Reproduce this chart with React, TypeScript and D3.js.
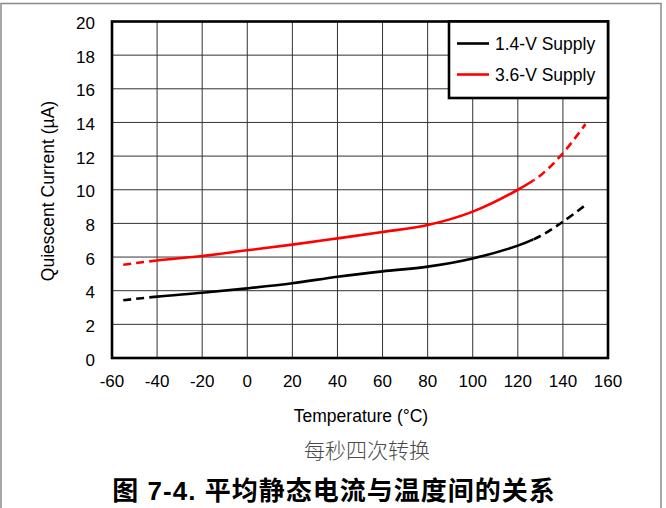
import { useEffect, useRef } from "react";
import * as d3 from "d3";

const temps = [-55, -40, -20, 0, 20, 40, 60, 80, 100, 120, 130, 140, 150];
const supply14 = [3.43, 3.65, 3.88, 4.14, 4.44, 4.83, 5.15, 5.43, 5.92, 6.68, 7.25, 8.1, 9.09];
const supply36 = [5.54, 5.8, 6.06, 6.4, 6.74, 7.11, 7.49, 7.9, 8.7, 10.0, 10.85, 12.17, 13.9];
const solidFrom = -40;
const solidTo = 127;

const xTicks = [-60, -40, -20, 0, 20, 40, 60, 80, 100, 120, 140, 160];
const yTicks = [0, 2, 4, 6, 8, 10, 12, 14, 16, 18, 20];

const seriesNames = ["1.4-V Supply", "3.6-V Supply"];
const seriesColors = ["#000000", "#ff0000"];

const FONT = "'Liberation Sans', Arial, sans-serif";
const CJK = "'Noto Sans CJK SC', sans-serif";

export default function App() {
  const ref = useRef<SVGSVGElement>(null);

  useEffect(() => {
    if (!ref.current) return;
    const width = 666;
    const height = 508;
    const plot = { left: 112, right: 608, top: 21.5, bottom: 358 };

    const svg = d3.select(ref.current);
    svg.selectAll("*").remove();
    svg.attr("width", width).attr("height", height);

    const x = d3.scaleLinear().domain([-60, 160]).range([plot.left, plot.right]);
    const y = d3.scaleLinear().domain([0, 20]).range([plot.bottom, plot.top]);

    // clip regions: dashed outside the tested range, solid inside
    const defs = svg.append("defs");
    defs
      .append("clipPath")
      .attr("id", "clip-solid")
      .append("rect")
      .attr("x", x(solidFrom))
      .attr("y", 0)
      .attr("width", x(solidTo) - x(solidFrom))
      .attr("height", height);
    const dashClip = defs.append("clipPath").attr("id", "clip-dash");
    dashClip
      .append("rect")
      .attr("x", 0)
      .attr("y", 0)
      .attr("width", x(solidFrom))
      .attr("height", height);
    dashClip
      .append("rect")
      .attr("x", x(solidTo))
      .attr("y", 0)
      .attr("width", width - x(solidTo))
      .attr("height", height);

    // outer frame
    svg
      .append("path")
      .attr("d", `M1,${height} V3.5 H661 V${height}`)
      .attr("fill", "none")
      .attr("stroke", "#8a8a8a")
      .attr("stroke-width", 1.5);

    // grid
    const grid = svg.append("g").attr("stroke", "#333").attr("stroke-width", 1);
    grid
      .selectAll("line.v")
      .data(xTicks.slice(1, -1))
      .join("line")
      .attr("class", "v")
      .attr("x1", (d) => x(d))
      .attr("x2", (d) => x(d))
      .attr("y1", plot.top)
      .attr("y2", plot.bottom);
    grid
      .selectAll("line.h")
      .data(yTicks.slice(1, -1))
      .join("line")
      .attr("class", "h")
      .attr("x1", plot.left)
      .attr("x2", plot.right)
      .attr("y1", (d) => y(d))
      .attr("y2", (d) => y(d));

    // tick labels
    svg
      .append("g")
      .selectAll("text")
      .data(yTicks)
      .join("text")
      .attr("x", plot.left - 17)
      .attr("y", (d) => y(d))
      .attr("dy", "0.45em")
      .attr("text-anchor", "end")
      .attr("font-family", FONT)
      .attr("font-size", 17)
      .text((d) => d);

    svg
      .append("g")
      .selectAll("text")
      .data(xTicks)
      .join("text")
      .attr("x", (d) => x(d))
      .attr("y", 387)
      .attr("text-anchor", "middle")
      .attr("font-family", FONT)
      .attr("font-size", 17)
      .text((d) => d);

    // curves
    const line = d3
      .line<[number, number]>()
      .x((d) => x(d[0]))
      .y((d) => y(d[1]))
      .curve(d3.curveCatmullRom.alpha(0.5));

    [supply14, supply36].forEach((vals, i) => {
      const pts = temps.map((t, j) => [t, vals[j]] as [number, number]);
      svg
        .append("path")
        .datum(pts)
        .attr("d", line)
        .attr("clip-path", "url(#clip-solid)")
        .attr("fill", "none")
        .attr("stroke", seriesColors[i])
        .attr("stroke-width", 2.6);
      svg
        .append("path")
        .datum(pts)
        .attr("d", line)
        .attr("clip-path", "url(#clip-dash)")
        .attr("fill", "none")
        .attr("stroke", seriesColors[i])
        .attr("stroke-width", 2.6)
        .attr("stroke-dasharray", "8,5");
    });

    // plot frame
    svg
      .append("rect")
      .attr("x", plot.left)
      .attr("y", plot.top)
      .attr("width", plot.right - plot.left)
      .attr("height", plot.bottom - plot.top)
      .attr("fill", "none")
      .attr("stroke", "#000")
      .attr("stroke-width", 2.6);

    // legend
    const lg = svg.append("g");
    lg.append("rect")
      .attr("x", 449)
      .attr("y", plot.top)
      .attr("width", plot.right - 449)
      .attr("height", 98 - plot.top)
      .attr("fill", "#fff")
      .attr("stroke", "#000")
      .attr("stroke-width", 2.6);
    seriesNames.forEach((name, i) => {
      const ly = 43.5 + i * 31;
      lg.append("line")
        .attr("x1", 457)
        .attr("x2", 489)
        .attr("y1", ly)
        .attr("y2", ly)
        .attr("stroke", seriesColors[i])
        .attr("stroke-width", 2.6);
      lg.append("text")
        .attr("x", 495)
        .attr("y", ly + 6.5)
        .attr("font-family", FONT)
        .attr("font-size", 17.5)
        .text(name);
    });

    // axis titles
    svg
      .append("text")
      .attr("x", 361)
      .attr("y", 422)
      .attr("text-anchor", "middle")
      .attr("font-family", FONT)
      .attr("font-size", 17.5)
      .text("Temperature (°C)");

    svg
      .append("text")
      .attr("transform", "translate(54,191) rotate(-90)")
      .attr("text-anchor", "middle")
      .attr("font-family", FONT)
      .attr("font-size", 17.5)
      .text("Quiescent Current (µA)");

    svg
      .append("text")
      .attr("x", 367)
      .attr("y", 458)
      .attr("text-anchor", "middle")
      .attr("font-family", CJK)
      .attr("font-weight", 300)
      .attr("font-size", 21)
      .attr("fill", "#4a4a4a")
      .text("每秒四次转换");

    const title = svg
      .append("text")
      .attr("x", 334)
      .attr("y", 500)
      .attr("text-anchor", "middle")
      .attr("font-family", FONT)
      .attr("font-weight", "bold")
      .attr("font-size", 26)
      .attr("letter-spacing", 1);
    title.append("tspan").attr("font-family", CJK).text("图");
    title.append("tspan").text(" 7-4. ");
    title.append("tspan").attr("font-family", CJK).text("平均静态电流与温度间的关系");
  }, []);

  return (
    <div style={{ position: "absolute", left: 0, top: 0 }}>
      <svg ref={ref} style={{ display: "block" }} />
    </div>
  );
}
